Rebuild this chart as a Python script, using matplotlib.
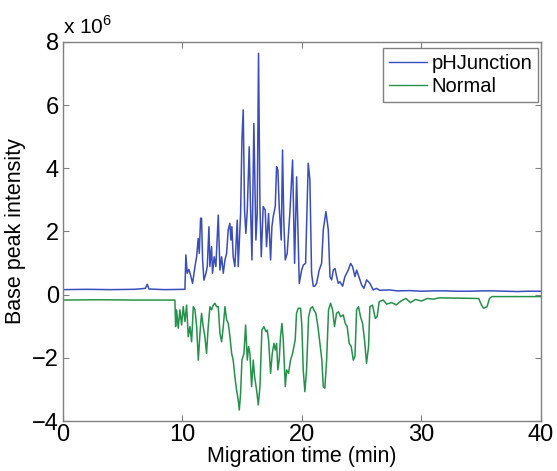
import numpy as np
import matplotlib
matplotlib.use("Agg")
import matplotlib.pyplot as plt

# -------------------------
# Data (intensity in 1e6)
# -------------------------

ph_time = [0.0, 2.0, 4.0, 6.0, 6.9, 7.06, 7.2, 8.5, 10.21,
           10.29, 10.40, 10.54, 10.68, 10.85, 11.05, 11.19, 11.32, 11.41, 11.52,
           11.60, 11.69, 11.80, 11.97, 12.08, 12.22, 12.30, 12.44, 12.52, 12.66,
           12.80, 13.00, 13.14, 13.28, 13.42, 13.56, 13.70, 13.83, 13.97, 14.06,
           14.14, 14.25, 14.39, 14.59, 14.67, 14.87, 14.98, 15.09, 15.20, 15.31,
           15.43, 15.59, 15.70, 15.82, 15.98, 16.15, 16.26, 16.37, 16.49, 16.60,
           16.76, 16.93, 17.04, 17.21, 17.38, 17.49, 17.60, 17.77, 17.88, 17.99,
           18.10, 18.27, 18.38, 18.49, 18.61, 18.77, 18.99, 19.22, 19.39, 19.56,
           19.78, 19.98, 20.12, 20.31, 20.53, 20.67, 20.81, 20.95, 21.09, 21.23,
           21.45, 21.65, 21.79, 22.01, 22.21, 22.35, 22.49, 22.63, 22.77, 22.91,
           23.04, 23.18, 23.41, 23.60, 23.88, 24.08, 24.24, 24.44, 24.58, 24.77,
           25.00, 25.19, 25.42, 25.69, 25.97, 26.24, 26.52, 27.36, 28.0, 29.0,
           30.0, 31.0, 32.0, 33.0, 34.0, 35.0, 36.0, 37.0, 38.0, 39.0, 40.0]
ph_int = [0.16, 0.17, 0.16, 0.17, 0.20, 0.33, 0.18, 0.16, 0.17,
          1.26, 0.68, 0.80, 0.62, 0.36, 0.89, 1.20, 1.78, 1.31, 2.42,
          2.42, 1.10, 0.46, 0.68, 0.89, 2.15, 0.89, 1.52, 0.68, 1.20,
          0.89, 2.52, 0.78, 1.20, 0.68, 1.10, 1.31, 2.05, 2.26, 1.73,
          2.15, 1.20, 0.89, 2.36, 0.89, 2.57, 4.90, 5.85, 2.68, 1.94,
          2.68, 4.68, 2.79, 1.10, 5.42, 1.73, 2.57, 7.64, 2.79, 1.20,
          2.79, 2.68, 1.52, 2.57, 1.10, 2.15, 2.47, 2.79, 4.05, 3.95,
          2.79, 1.73, 4.58, 2.26, 1.10, 1.31, 2.57, 4.26, 0.99, 3.73,
          0.36, 0.78, 0.94, 0.99, 4.16, 3.63, 0.68, 0.27, 0.27, 0.36,
          0.78, 0.99, 2.05, 2.63, 2.05, 0.57, 0.47, 0.78, 0.83, 0.57,
          0.36, 0.41, 0.27, 0.57, 0.78, 0.99, 0.89, 0.57, 0.78, 0.57,
          0.31, 0.20, 0.47, 0.36, 0.15, 0.20, 0.14, 0.15, 0.12, 0.13,
          0.11, 0.12, 0.12, 0.11, 0.11, 0.12, 0.12, 0.11, 0.10, 0.11, 0.11]

normal_time = [0.0, 3.0, 6.0, 9.37,
               9.43, 9.51, 9.65, 9.79, 9.93, 10.07, 10.21, 10.35, 10.49, 10.63,
               10.77, 10.91, 11.05, 11.19, 11.33, 11.47, 11.60, 11.74, 11.88, 12.02,
               12.16, 12.30, 12.44, 12.58, 12.72, 12.86, 13.00, 13.14, 13.28, 13.42,
               13.56, 13.70, 13.84, 13.98, 14.12, 14.25, 14.39, 14.53, 14.67, 14.76,
               14.87, 14.98, 15.15, 15.29, 15.43, 15.54, 15.65, 15.79, 15.93, 16.04,
               16.21, 16.35, 16.49, 16.65, 16.82, 16.99, 17.10, 17.21, 17.38, 17.52,
               17.66, 17.77, 17.88, 17.99, 18.10, 18.21, 18.33, 18.44, 18.61, 18.72,
               18.88, 19.05, 19.22, 19.33, 19.44, 19.55, 19.69, 19.89, 20.00, 20.11,
               20.25, 20.39, 20.56, 20.73, 20.89, 21.00, 21.17, 21.34, 21.51, 21.67,
               21.79, 21.92, 22.07, 22.23, 22.40, 22.57, 22.73, 22.90, 23.07, 23.24,
               23.46, 23.63, 23.79, 23.96, 24.13, 24.30, 24.44, 24.58, 24.74, 24.91,
               25.08, 25.24, 25.41, 25.58, 25.69, 25.91, 26.14, 26.30, 26.47, 26.81,
               27.10, 27.50, 27.90, 28.30, 28.70, 29.10, 29.50, 30.00, 30.50, 31.00,
               31.50, 33.00, 34.80, 35.00, 35.20, 35.50, 35.70, 35.90, 38.00, 40.00]
normal_int = [-0.17, -0.16, -0.17, -0.17,
              -1.01, -0.48, -1.06, -0.48, -0.96, -0.38, -0.85, -0.33, -1.33, -1.01,
              -1.49, -0.38, -0.48, -1.01, -2.07, -1.22, -0.59, -1.01, -1.33, -1.86,
              -1.01, -0.38, -0.48, -0.33, -0.27, -0.38, -0.38, -1.22, -1.49, -1.01,
              -0.38, -0.80, -0.91, -1.33, -1.86, -2.07, -2.59, -3.02, -3.33, -3.65,
              -3.12, -2.07, -1.86, -0.96, -2.07, -1.64, -1.86, -2.91, -2.07, -2.59,
              -3.02, -3.49, -2.91, -1.12, -1.01, -1.17, -1.12, -1.43, -2.49, -1.86,
              -1.54, -1.75, -1.54, -2.38, -2.07, -1.33, -0.91, -1.43, -2.91, -2.38,
              -2.49, -2.07, -1.86, -1.64, -1.43, -0.59, -0.43, -0.43, -1.01, -2.38,
              -3.07, -2.38, -0.70, -0.43, -0.38, -0.48, -0.59, -1.01, -1.54, -2.07,
              -2.91, -2.96, -2.07, -0.48, -0.27, -0.48, -1.01, -0.59, -0.54, -0.70,
              -0.64, -0.91, -1.01, -1.54, -1.64, -2.07, -1.96, -0.48, -0.38, -0.70,
              -0.91, -1.43, -2.17, -1.64, -0.38, -0.33, -0.75, -0.69, -0.22, -0.17,
              -0.30, -0.25, -0.32, -0.20, -0.12, -0.25, -0.15, -0.20, -0.12, -0.14,
              -0.10, -0.11, -0.12, -0.30, -0.43, -0.38, -0.12, -0.06, -0.06, -0.06]

x_ticks = [0, 10, 20, 30, 40]
y_ticks = [-4, -2, 0, 2, 4, 6, 8]

# -------------------------
# Plot
# -------------------------

plt.rcParams["font.family"] = ["Liberation Sans", "DejaVu Sans"]
plt.rcParams["mathtext.fontset"] = "custom"
plt.rcParams["mathtext.rm"] = "Liberation Sans"

fig = plt.figure(figsize=(5.57, 4.71), dpi=100)
ax = fig.add_axes([0.113, 0.106, 0.858, 0.805])

ax.plot(ph_time, ph_int, color="#3a4dbd", linewidth=1.1, label="pHJunction")
ax.plot(normal_time, normal_int, color="#24924a", linewidth=1.1, label="Normal")

ax.set_xlim(0, 40)
ax.set_ylim(-4, 8)
ax.set_xticks(x_ticks)
ax.set_yticks(y_ticks)
ax.set_yticklabels([str(v).replace("-", "\u2212") for v in y_ticks])

for s in ax.spines.values():
    s.set_color("#808080")
    s.set_linewidth(1.0)
ax.tick_params(direction="in", length=4, color="#808080", labelsize=17,
               top=True, right=True)
ax.tick_params(axis="x", pad=2)
ax.tick_params(axis="y", pad=3)

ax.set_xlabel("Migration time (min)", fontsize=15.5, labelpad=0)
ax.set_ylabel("Base peak intensity", fontsize=15.5, labelpad=4)

ax.text(0.0, 1.01, r"x 10$^{6}$", transform=ax.transAxes, fontsize=15,
        ha="left", va="bottom")

leg = ax.legend(loc="upper right", bbox_to_anchor=(0.994, 0.985),
                borderaxespad=0, fontsize=14.5, fancybox=False,
                handlelength=1.9, handletextpad=0.2, labelspacing=0.2,
                borderpad=0.3, framealpha=1)
leg.get_frame().set_edgecolor("#808080")
leg.get_frame().set_linewidth(1.0)
for line in leg.get_lines():
    line.set_linewidth(1.0)

fig.savefig("out.png", dpi=100)
